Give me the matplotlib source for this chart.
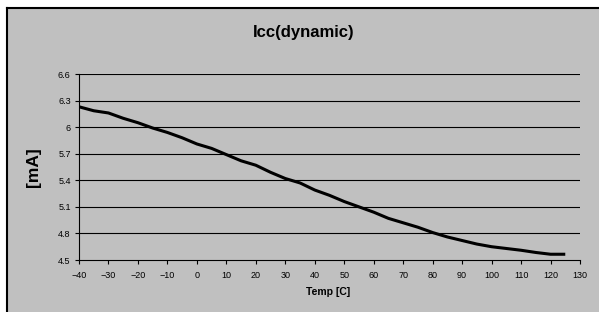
import numpy as np
import matplotlib
matplotlib.use("Agg")
import matplotlib.pyplot as plt
from matplotlib.patches import Rectangle
from matplotlib.lines import Line2D

plt.rcParams['font.family'] = ['Liberation Sans', 'DejaVu Sans']

temp = [-40, -35, -30, -25, -20, -15, -10, -5, 0, 5, 10, 15, 20, 25, 30, 35,
        40, 45, 50, 55, 60, 65, 70, 75, 80, 85, 90, 95, 100, 105, 110, 115,
        120, 125]
icc = [6.23, 6.185, 6.16, 6.10, 6.05, 5.99, 5.94, 5.88, 5.81, 5.76, 5.69,
       5.62, 5.57, 5.49, 5.42, 5.37, 5.29, 5.23, 5.16, 5.10, 5.04, 4.97,
       4.92, 4.87, 4.81, 4.76, 4.72, 4.68, 4.65, 4.63, 4.61, 4.585, 4.565,
       4.565]
xticks = list(range(-40, 131, 10))
yticks = [4.5, 4.8, 5.1, 5.4, 5.7, 6.0, 6.3, 6.6]
ylabels = ['4.5', '4.8', '5.1', '5.4', '5.7', '6', '6.3', '6.6']

W, H = 599, 312
fig = plt.figure(figsize=(W / 100, H / 100), dpi=100)
fig.patch.set_facecolor('white')

# gray chart area with border on left/top
bg = '#c0c0c0'
fig.patches.append(Rectangle((7 / W, 0), 1 - 7 / W, 1 - 8 / H,
                             transform=fig.transFigure, facecolor=bg,
                             edgecolor='none', zorder=-5))
fig.lines.append(Line2D([7 / W, 7 / W], [0, 1 - 8 / H], transform=fig.transFigure,
                        color='black', lw=1.5, zorder=-4))
fig.lines.append(Line2D([7 / W, 1], [1 - 8 / H, 1 - 8 / H], transform=fig.transFigure,
                        color='black', lw=1.5, zorder=-4))

ax = fig.add_axes([79 / W, 1 - 260 / H, (580 - 79) / W, (260 - 74) / H])
ax.set_zorder(1)
ax.set_facecolor(bg)
ax.plot(temp, icc, color='black', lw=2.2, zorder=3, solid_capstyle='butt')

ax.set_xlim(-40, 130)
ax.set_ylim(4.5, 6.6)
ax.set_xticks(xticks)
ax.set_yticks(yticks)
ax.set_yticklabels(ylabels)
for y in yticks[1:]:
    ax.axhline(y, color='black', lw=0.8, zorder=1)

for s in ['top', 'right']:
    ax.spines[s].set_visible(False)
for s in ['left', 'bottom']:
    ax.spines[s].set_color('black')
    ax.spines[s].set_linewidth(0.8)
ax.tick_params(axis='both', direction='out', length=3, width=0.8,
               labelsize=6.5, pad=3, colors='black')
ax.tick_params(axis='x', pad=5)

fig.text(303.5 / W, 1 - 32 / H, 'Icc(dynamic)', ha='center', va='center',
         fontsize=12, fontweight='bold', zorder=2)
fig.text(34 / W, 1 - 167 / H, '[mA]', ha='center', va='center',
         rotation=90, fontsize=12.5, fontweight='bold', zorder=2)
fig.text(328 / W, 1 - 292 / H, 'Temp [C]', ha='center', va='center',
         fontsize=7.5, fontweight='bold', zorder=2)

fig.savefig('out.png', dpi=100, facecolor=fig.get_facecolor())
